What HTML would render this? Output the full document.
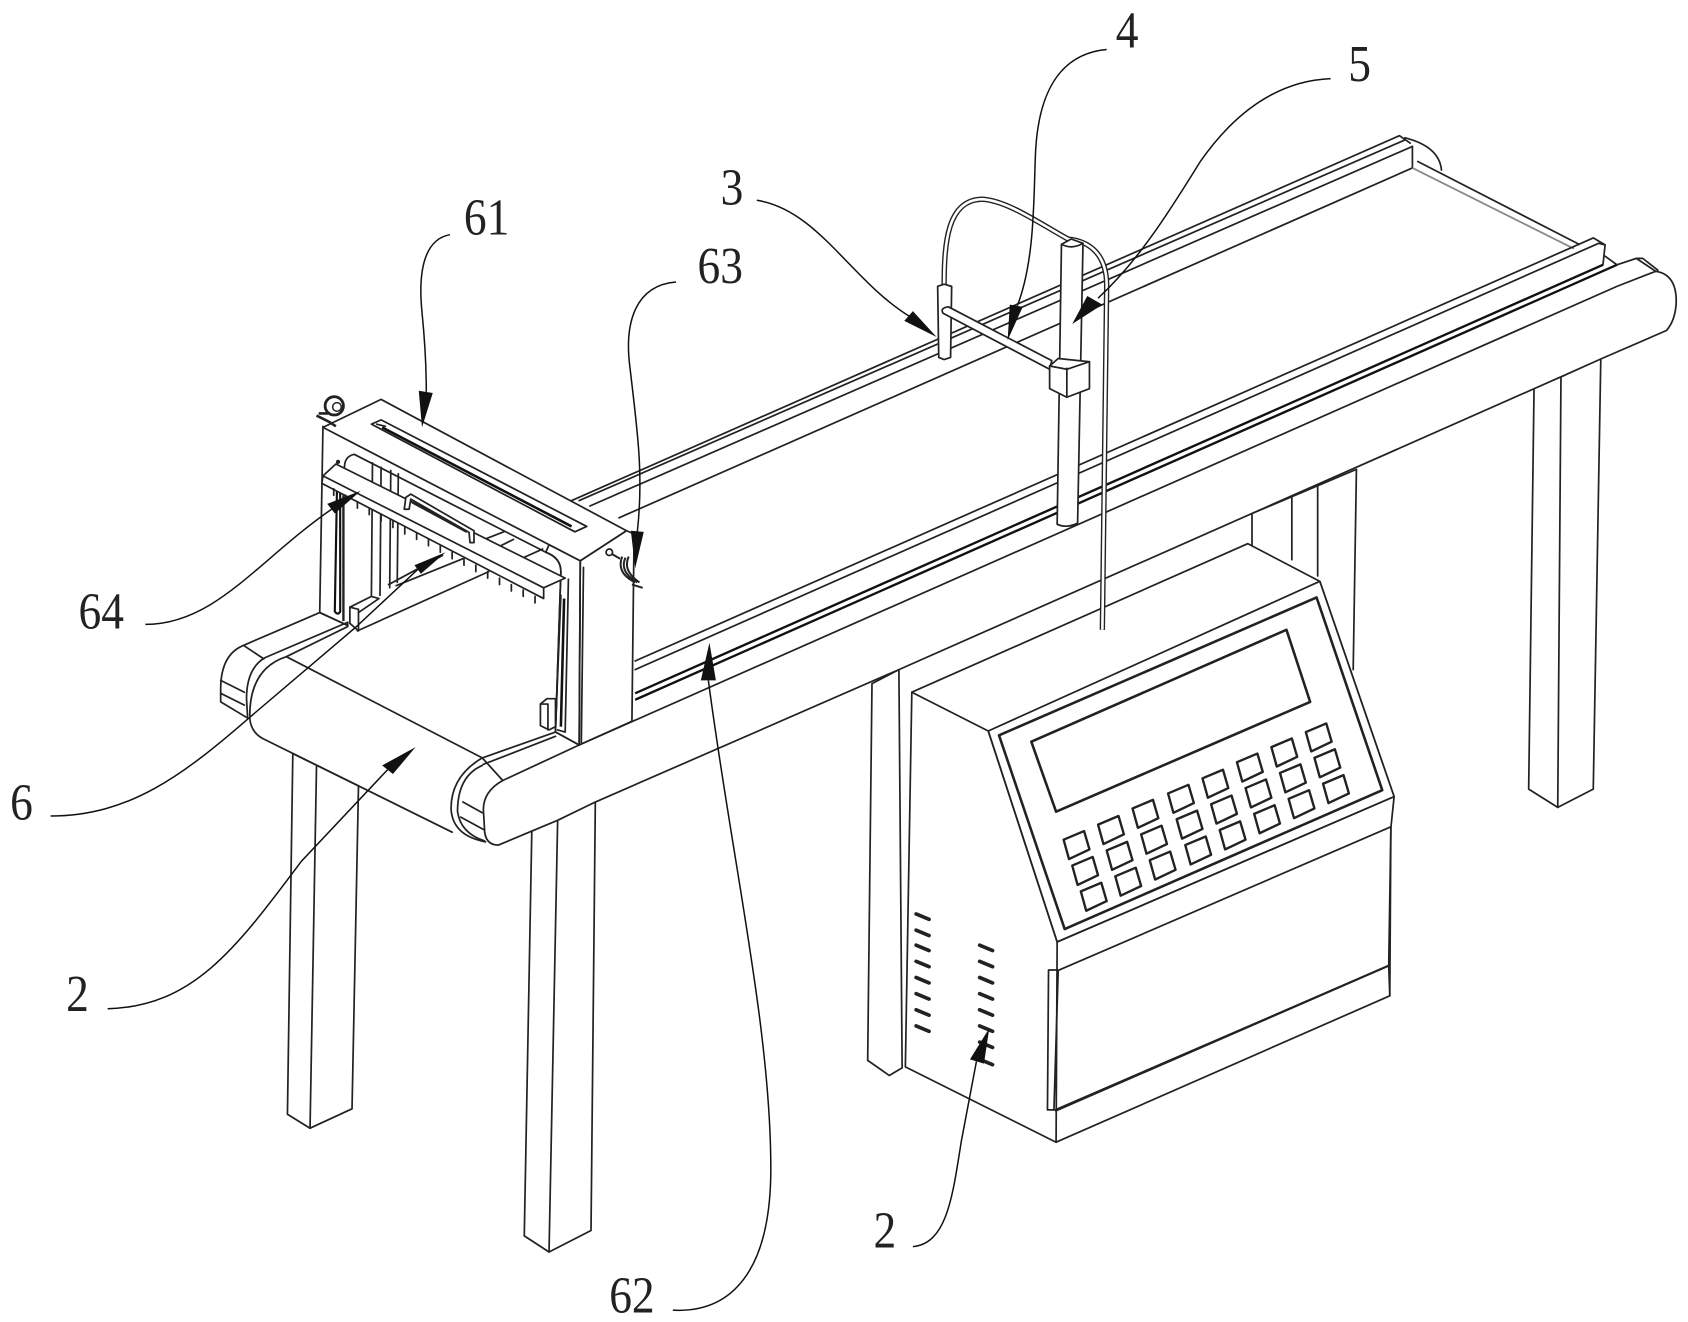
<!DOCTYPE html>
<html><head><meta charset="utf-8"><style>
html,body{margin:0;padding:0;background:#fff}
svg{display:block}
.l{fill:none;stroke:#222;stroke-width:1.6;stroke-linejoin:round;stroke-linecap:round}
.w{fill:#fff;stroke:#222;stroke-width:1.6;stroke-linejoin:round}
.t{fill:none;stroke:#111;stroke-width:1.4}
.k{fill:none;stroke:#222;stroke-width:1.6;stroke-linecap:round}
text{font-family:"Liberation Serif",serif;font-size:48px;fill:#222;text-anchor:middle}
</style></head><body>
<svg xmlns="http://www.w3.org/2000/svg" width="1688" height="1322" viewBox="0 0 1568 1228">
<!-- rear legs -->
<path class="l" d="M1163 477V507M1200 461V520M1224 449V535M1260 436L1257 622M1163 477L1260 436"/>
<path class="w" d="M1425 360L1420 733L1447 750L1480 733L1487 333L1450 350Z"/>
<path class="l" d="M1450 350L1447 750"/>
<path class="w" d="M272 700L267 1035L288 1048L327 1030L333 730Z"/>
<path class="l" d="M294 712L288 1048"/>
<path class="w" d="M810 635L806 985L826 999L838 992L835 622Z"/>
<path class="w" d="M494 772L487 1148L510 1163L549 1143L553 745Z" />
<path class="l" d="M518 762L510 1163"/>
<!-- back rail -->
<path class="l" d="M531 465L1300 126L1310 133M538 465L1305 130M548 470L1312 136M575 481L1312 156"/>
<path class="l" d="M1305 128Q1337 136 1339 158M1312 136V156"/>
<path d="M1312 156L1462 231" fill="none" stroke="#888" stroke-width="1.6"/>
<path class="l" d="M1317 150L1467 227"/>
<!-- inner front bar -->
<path class="l" d="M590 614L1480 221L1491 227.5L1489 246M590 622L1485 226L1491 227.5M1491 238L1502 246"/>
<path d="M590 644L1489 246M590 650L1502 246" fill="none" stroke="#111" stroke-width="2.2"/>
<!-- front big rail -->
<path class="w" d="M538 692L590 669L1502 266L1538 252Q1558 255 1557 282Q1556 298 1548 307L1488 333L1450 350L835 622L553 745L518 762L494 772L463 785Q450 785 450 769L449 752Q449 735 467 725Z"/>
<path class="l" d="M1502 246L1520 240H1526L1540 251M1520 240L1538 252"/>
<!-- belt and left rail -->
<path class="l" d="M266 610L448 704M244 686L420 773M232 667Q233 680 244 686"/>
<path class="w" d="M225 600Q205 609 205 640V652L230 667L229 649Q229 621 246 611L323 578L323 581L297 569Z"/>
<path class="l" d="M227 600L245 612M205 632L227 643M205 644L227 655M266 610Q232 621 232 665M266 610L323 582"/>
<path class="l" d="M448 704Q419 721 419 751Q420 776 451 782M448 711Q425 721 425 754Q428 774 450 781M430 745L448 755M428 759L450 771M448 704L516 680M449 710L516 684M448 704L467 725"/>
<!-- frame -->
<path class="l" d="M300 396L297 569L323 581"/>
<path class="w" d="M300 397L354 371L582 493L539 521Z"/>
<path class="w" d="M539 521L582 493L589 496L587 670L538 692Z"/>
<path class="l" d="M542 527L540 690"/>
<path class="w" d="M507 513Q521 518 521 531L516 680L538 692L539 521L510 506Z" stroke="none"/>
<path class="l" d="M320 434Q320 424 329 422L507 513Q521 518 521 531L516 680L538 692M539 521L538 692"/>
<path class="w" d="M345 394L354 390L545 489L534 494Z"/>
<path d="M355 397L531 489" fill="none" stroke="#111" stroke-width="2.4"/>
<path class="l" d="M350 394L358 396"/>
<!-- inner details -->
<path class="l" d="M346 430L345 553M354 434L353 553M363 437L362 546M370 440L369 541"/>
<path d="M313 455L311 568Q314 572 316 568L316 458" stroke="#111" stroke-width="2" fill="none"/>
<path d="M319 460V577" stroke="#222" stroke-width="2.2" fill="none"/>
<path class="l" d="M361 543L411 516M368 544L430 519M332 586L454 531M450 501L468 494M463 508L477 501M484 519L504 510"/>
<path class="w" d="M325 564L345 554L352 556L333 569V586L325 579Z"/>
<path class="l" d="M325 564L333 566V569"/>
<!-- bar -->
<path class="w" d="M300 442L312 431L525 537L505 546L505 556L299 449Z"/>
<path class="l" d="M300 442L505 546"/>
<circle cx="314" cy="429" r="2" fill="#222"/>
<path class="k" d="M310 454v6M321 460v6M332 466v6M343 472v6M354 478v6M365 484v6M376 490v6M387 495v6M398 501v6M409 507v6M420 513v6M431 519v6M442 525v6M453 531v6M464 537v6M475 543v6M486 548v6M497 554v6"/>
<path class="w" d="M375.5 473L377 462L381.6 459L440.3 493V504H436.6L435.7 494.5L381.6 463.6L380 473Z"/>
<path class="l" d="M383 467L433 494"/>
<!-- right rods -->
<path class="l" d="M528 538L525 680L518 678M521 553L516 677"/>
<path d="M524 556L521 675" stroke="#111" stroke-width="2.4" fill="none"/>
<path class="w" d="M502 654L508 649L516 649L516 675L510 678L502 674Z"/>
<path class="l" d="M509 654V678M502 654L509 654"/>
<!-- hooks -->
<circle cx="310.5" cy="377" r="8.5" fill="#fff" stroke="#222" stroke-width="2.6"/>
<circle cx="313" cy="378" r="4" fill="#fff" stroke="#222" stroke-width="1.4"/>
<path d="M294 386L306 392L312 396M296 384L305 384" stroke="#222" stroke-width="2.4" fill="none"/>
<path d="M564 512L576 519M587 543L597 546M578 517Q572 532 590 541M584 517Q578 530 594 541M581 518Q575 531 592 541" stroke="#222" stroke-width="1.8" fill="none"/>
<circle cx="566" cy="513" r="3" fill="#fff" stroke="#222" stroke-width="1.6"/>
<!-- control box -->
<g transform="translate(1,1)">
<path class="w" d="M846 642L1158 504L1225 539L1294 739L1291 768L1290 924L980 1060L840 990Z"/>
<path class="w" d="M917 678L1225 539L1294 739L981 874Z"/>
<path class="l" d="M846 642L917 678L981 874L980 1060M983 900L1291 767M981 874L1294 739"/>
<path d="M927 682L1222 554L1283 733L988 862Z" fill="none" stroke="#222" stroke-width="2.4" stroke-linejoin="round"/>
<path d="M957 688L1194 584L1216 651L980 753Z" fill="none" stroke="#222" stroke-width="2.4" stroke-linejoin="round"/>
<path class="l" d="M973 900H982L978 1030H972ZM979 1030L1289 896L1290 924M1289 896L1291 768"/>
<path d="M979 1031L1289 896" fill="none" stroke="#222" stroke-width="2"/>
<defs><path id="b" d="M-10 -5L9 -13L14 4L-5 13Z" fill="#fff" stroke="#222" stroke-width="2.2" stroke-linejoin="round"/></defs>
<g>
<use href="#b" x="997" y="784"/><use href="#b" x="1029" y="770"/><use href="#b" x="1061" y="755"/><use href="#b" x="1094" y="741"/><use href="#b" x="1126" y="727"/><use href="#b" x="1158" y="712"/><use href="#b" x="1190" y="698"/><use href="#b" x="1222" y="684"/>
<use href="#b" x="1005" y="808"/><use href="#b" x="1037" y="794"/><use href="#b" x="1069" y="779"/><use href="#b" x="1102" y="765"/><use href="#b" x="1134" y="751"/><use href="#b" x="1166" y="736"/><use href="#b" x="1198" y="722"/><use href="#b" x="1230" y="708"/>
<use href="#b" x="1013" y="832"/><use href="#b" x="1045" y="818"/><use href="#b" x="1077" y="803"/><use href="#b" x="1110" y="789"/><use href="#b" x="1142" y="775"/><use href="#b" x="1174" y="760"/><use href="#b" x="1206" y="746"/><use href="#b" x="1238" y="732"/>
</g>
<path d="M850 848l12 5M850 863l12 5M850 877l12 5M850 892l12 5M850 907l12 5M850 922l12 5M850 937l12 5M850 952l12 5M909 877l12 5M909 892l12 5M909 907l12 5M909 922l12 5M909 937l12 5M909 952l12 5M909 967l12 5M909 983l12 5" stroke="#222" stroke-width="3.4" fill="none" stroke-linecap="round"/>
</g>
<!-- post, arm, cable -->
<path d="M877 266C877 225 880 186 912 185C935 186 965 207 992 222C1012 224 1028 236 1028 265L1024 585" fill="none" stroke="#222" stroke-width="5"/>
<path d="M877 266C877 225 880 186 912 185C935 186 965 207 992 222C1012 224 1028 236 1028 265L1024 585" fill="none" stroke="#fff" stroke-width="2.4"/>
<path class="w" d="M871 266L877 264L884 266L883 332L877 334L872 332Z"/>
<path class="w" d="M986 227L995 222L1006 226L1001 486Q991 491 982 487Z"/>
<path class="l" d="M986 227Q996 232 1006 226"/>
<path class="w" d="M881 285L977 335L975 343L876 291Q873 286 881 285Z"/>
<path class="w" d="M975 340L983 333L1012 336V361L991 369L975 361Z"/>
<path class="l" d="M991 342V369M975 340L991 343L1012 336"/>
<!-- leaders -->
<g class="t">
<path d="M1028 46C985 50 965 85 962 140C960 180 962 240 945 284"/>
<path d="M1236 73C1190 75 1150 100 1115 150C1090 190 1060 240 1020 277"/>
<path d="M703 186C760 195 790 260 845 294"/>
<path d="M418 218C395 222 388 250 392 290C395 320 396 340 396 364"/>
<path d="M628 262C590 265 580 300 585 340C592 400 598 440 592 494"/>
<path d="M135 580C200 580 240 520 308 473"/>
<path d="M47 758C120 758 170 720 230 668L330 583L388 529"/>
<path d="M100 937C180 935 220 880 280 800L360 715"/>
<path d="M848 1158C880 1155 885 1110 893 1060L907 986"/>
<path d="M625 1217C680 1220 715 1180 716 1090C717 960 680 800 658 632"/>
</g>
<g fill="#111">
<path d="M936 316L938 283L950 285Z"/>
<path d="M996 301L1010 275L1024 283Z"/>
<path d="M870 313L840 298L848 289Z"/>
<path d="M392 397L389 363L402 365Z"/>
<path d="M590 528L586 493L598 494Z"/>
<path d="M335 456L304 468L311 477Z"/>
<path d="M414 513L385 525L391 533Z"/>
<path d="M386 694L355 711L365 719Z"/>
<path d="M919 955L901 984L914 988Z"/>
<path d="M659 597L651 632L665 632Z"/>
</g>
<!-- labels -->
<text transform="translate(1047,44) scale(.88,1)">4</text>
<text transform="translate(1263,75) scale(.88,1)">5</text>
<text transform="translate(680,190) scale(.88,1)">3</text>
<text transform="translate(452,218) scale(.88,1)">61</text>
<text transform="translate(669,263) scale(.88,1)">63</text>
<text transform="translate(94,584) scale(.88,1)">64</text>
<text transform="translate(20,761) scale(.88,1)">6</text>
<text transform="translate(72,939) scale(.88,1)">2</text>
<text transform="translate(822,1159) scale(.88,1)">2</text>
<text transform="translate(587,1219) scale(.88,1)">62</text>
</svg>
</body></html>
